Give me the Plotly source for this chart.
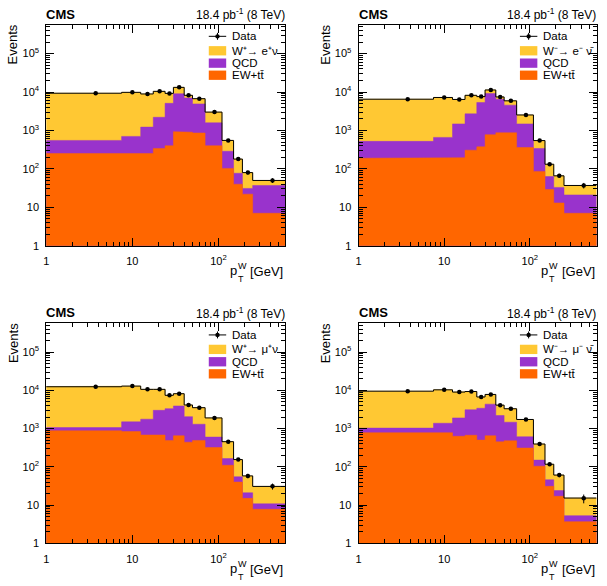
import math
import plotly.graph_objects as go

# ---------------- data ----------------
EDGES = [0, 7.5, 12.5, 17.5, 24, 30, 40, 50, 70, 110, 150, 190, 250, 600]

# W+ -> e+ nu
DATA_EP = [9300, 9800, 8900, 10400, 9200, 13200, 8200, 6700, 3000, 550, 180, 80, 50]
SIG_EP = [8750, 9100, 7680, 8200, 4120, 4200, 1200, 1800, 1420, 262, 103, 49, 13]
QCD_EP = [300, 450, 970, 1860, 4680, 8070, 6100, 4040, 1180, 185, 37, 9, 30]
EW_EP = [250, 250, 250, 340, 400, 930, 900, 860, 400, 103, 40, 22, 7]

# W- -> e- nubar
DATA_EM = [6500, 7200, 6400, 8200, 7600, 11300, 7450, 5900, 2530, 545, 132, 66, 37]
SIG_EM = [5980, 6550, 4920, 5500, 2250, 2200, 950, 1350, 1050, 205, 69, 33, 16]
QCD_EM = [332, 470, 1285, 2393, 4975, 8325, 5630, 3680, 1120, 254, 34, 20, 14]
EW_EM = [188, 190, 195, 307, 375, 775, 870, 870, 360, 86, 29, 13, 7]

# W+ -> mu+ nu
DATA_MP = [12400, 12900, 10600, 10600, 7400, 8150, 4140, 3520, 1900, 455, 155, 58, 31]
SIG_MP = [11340, 11400, 8840, 7600, 4080, 4250, 2090, 2220, 1300, 291, 100, 37, 20]
QCD_MP = [180, 660, 1080, 2320, 2830, 3250, 1610, 810, 280, 54, 15, 6, 3]
EW_MP = [880, 840, 680, 680, 490, 650, 440, 490, 320, 110, 40, 15, 7.8]

# W- -> mu- nubar
DATA_MM = [9500, 10300, 9000, 9300, 6700, 7800, 4100, 3300, 1730, 395, 117, 61, 15]
SIG_MM = [8470, 8920, 7100, 6200, 3300, 3450, 1900, 1830, 1120, 245, 71, 37, 10]
QCD_MM = [250, 600, 1270, 2430, 2900, 3700, 1750, 990, 300, 46, 15, 7, 1.6]
EW_MM = [780, 780, 630, 670, 500, 650, 450, 480, 310, 104, 31, 17, 3.7]

SIG_LABELS = [
    "W\u207a\u2192 e\u207a\u03bd",
    "W\u207b\u2192 e\u207b \u03bd\u0304",
    "W\u207a\u2192 \u03bc\u207a\u03bd",
    "W\u207b\u2192 \u03bc\u207b \u03bd\u0304",
]
BKG_LABELS = ["QCD", "EW+tt\u0304"]
X_TICKVALS = [1, 10, 100]
X_TICKTEXT = ["1", "10", "10<sup>2</sup>"]
Y_TICKVALS = [1, 10, 100, 1e3, 1e4, 1e5]
Y_TICKTEXT = ["1", "10", "10<sup>2</sup>", "10<sup>3</sup>", "10<sup>4</sup>", "10<sup>5</sup>"]
LUMI = "18.4 pb<sup>-1</sup> (8 TeV)"

# ---------------- style ----------------
W, H = 607, 586
FONT = "Liberation Sans, Arial, Helvetica, sans-serif"
C_SIG = "#FFC833"
C_QCD = "#9933CC"
C_EW = "#FF6600"
COLS = [(43.5, 283.8), (357.3, 596.5)]
ROWS = [(25.0, 248.3), (326.7, 549.0)]
X_RANGE = [0, math.log10(600)]
Y_RANGE = [0, 5.75]
FLOOR = 0.1
X_LOW_DRAW = 0.5

def px(x):
    return x / W

def py(y):
    return 1 - y / H

minor_x = [k * 10 ** d for d in range(0, 3) for k in range(2, 10)]
minor_y = [k * 10 ** d for d in range(0, 6) for k in range(2, 10)]

panels = [
    (0, 0, DATA_EP, SIG_EP, QCD_EP, EW_EP, SIG_LABELS[0]),
    (1, 0, DATA_EM, SIG_EM, QCD_EM, EW_EM, SIG_LABELS[1]),
    (0, 1, DATA_MP, SIG_MP, QCD_MP, EW_MP, SIG_LABELS[2]),
    (1, 1, DATA_MM, SIG_MM, QCD_MM, EW_MM, SIG_LABELS[3]),
]

edges_draw = [max(e, X_LOW_DRAW) for e in EDGES]
centers = [(EDGES[i] + EDGES[i + 1]) / 2 for i in range(len(EDGES) - 1)]

def step_polygon(level):
    xs, ys = [], []
    for i, v in enumerate(level):
        xs += [edges_draw[i], edges_draw[i + 1]]
        ys += [v, v]
    xs += [edges_draw[-1], edges_draw[0]]
    ys += [FLOOR, FLOOR]
    return xs, ys

fig = go.Figure()
shapes = []
annotations = []
layout = {}

for k, (c, r, data, sig, qcd, ew, slabel) in enumerate(panels, start=1):
    sfx = "" if k == 1 else str(k)
    xa, ya = "x" + sfx, "y" + sfx
    L, R = COLS[c]
    T, B = ROWS[r]

    lvl_ew = list(ew)
    lvl_qcd = [a + b for a, b in zip(lvl_ew, qcd)]
    lvl_tot = [a + b for a, b in zip(lvl_qcd, sig)]

    for lvl, col in [(lvl_tot, C_SIG), (lvl_qcd, C_QCD), (lvl_ew, C_EW)]:
        xs, ys = step_polygon(lvl)
        fig.add_trace(go.Scatter(x=xs, y=ys, fill="toself", fillcolor=col,
                                 mode="lines", line=dict(color=col, width=0.5),
                                 xaxis=xa, yaxis=ya, hoverinfo="skip"))
    # black outline on top of the stack
    fig.add_trace(go.Scatter(x=edges_draw, y=lvl_tot + [lvl_tot[-1]], mode="lines",
                             line=dict(color="black", width=1, shape="hv"),
                             xaxis=xa, yaxis=ya, hoverinfo="skip"))
    # data
    fig.add_trace(go.Scatter(x=centers, y=data, mode="markers",
                             marker=dict(color="black", size=4.5),
                             error_y=dict(type="data", array=[math.sqrt(v) for v in data],
                                          color="black", thickness=1, width=0),
                             xaxis=xa, yaxis=ya))

    axcommon = dict(showline=True, linecolor="black", linewidth=1, mirror="allticks",
                    ticks="inside", ticklen=8, tickcolor="black", tickwidth=1,
                    showgrid=False, zeroline=False, type="log",
                    tickfont=dict(family=FONT, size=11, color="black"),
                    tickmode="array")
    layout["xaxis" + sfx] = dict(axcommon, domain=[px(L), px(R)], range=X_RANGE,
                                 anchor=ya, tickvals=X_TICKVALS, ticktext=X_TICKTEXT,
                                 ticklabelstandoff=5,
                                 minor=dict(tickmode="array", tickvals=minor_x, ticks="inside",
                                            ticklen=4, tickcolor="black", showgrid=False))
    layout["yaxis" + sfx] = dict(axcommon, domain=[py(B), py(T)], range=Y_RANGE,
                                 anchor=xa, tickvals=Y_TICKVALS, ticktext=Y_TICKTEXT,
                                 ticklabelstandoff=4,
                                 minor=dict(tickmode="array", tickvals=minor_y, ticks="inside",
                                            ticklen=4, tickcolor="black", showgrid=False))

    # header texts
    annotations.append(dict(x=px(L - 2), y=py(T - 10.5), xref="paper", yref="paper",
                            text="<b>CMS</b>", showarrow=False, xanchor="left", yanchor="middle",
                            font=dict(family=FONT, size=13, color="black")))
    annotations.append(dict(x=px(R + 1.5), y=py(T - 10.5), xref="paper", yref="paper",
                            text=LUMI, showarrow=False, xanchor="right", yanchor="middle",
                            font=dict(family=FONT, size=12, color="black")))
    # axis titles (anchors refer to the unrotated box, so centre it)
    annotations.append(dict(x=px(L - 33.5), y=py(T + 20), xref="paper", yref="paper",
                            text="Events", showarrow=False, textangle=-90,
                            xanchor="center", yanchor="middle",
                            font=dict(family=FONT, size=13, color="black")))
    annotations.append(dict(x=px(R), y=py(B + 26), xref="paper", yref="paper",
                            text="[GeV]", showarrow=False, xanchor="right", yanchor="middle",
                            font=dict(family=FONT, size=13, color="black")))
    annotations.append(dict(x=px(R - 46.5), y=py(B + 25), xref="paper", yref="paper",
                            text="p", showarrow=False, xanchor="right", yanchor="middle",
                            font=dict(family=FONT, size=13, color="black")))
    annotations.append(dict(x=px(R - 43.5), y=py(B + 20.5), xref="paper", yref="paper",
                            text="W", showarrow=False, xanchor="center", yanchor="middle",
                            font=dict(family=FONT, size=9, color="black")))
    annotations.append(dict(x=px(R - 44.5), y=py(B + 34), xref="paper", yref="paper",
                            text="T", showarrow=False, xanchor="center", yanchor="middle",
                            font=dict(family=FONT, size=9, color="black")))

    # legend
    bx0, bx1 = R - 77, R - 59.5
    tx = R - 56
    ydata = T + 11.7
    shapes.append(dict(type="line", xref="paper", yref="paper", x0=px(bx0), x1=px(bx1),
                       y0=py(ydata), y1=py(ydata), line=dict(color="black", width=1)))
    xm = (bx0 + bx1) / 2
    shapes.append(dict(type="line", xref="paper", yref="paper", x0=px(xm), x1=px(xm),
                       y0=py(ydata - 3.5), y1=py(ydata + 3.5), line=dict(color="black", width=1)))
    shapes.append(dict(type="circle", xref="paper", yref="paper", x0=px(xm - 2.2), x1=px(xm + 2.2),
                       y0=py(ydata - 2.2), y1=py(ydata + 2.2), fillcolor="black",
                       line=dict(color="black", width=0)))
    entries = [("Data", None, ydata),
               (slabel, C_SIG, T + 26.3),
               (BKG_LABELS[0], C_QCD, T + 38.8),
               (BKG_LABELS[1], C_EW, T + 51.0)]
    for txt, col, yc in entries:
        if col is not None:
            shapes.append(dict(type="rect", xref="paper", yref="paper", x0=px(bx0), x1=px(bx1),
                               y0=py(yc - 4.7), y1=py(yc + 4.7), fillcolor=col,
                               line=dict(color=col, width=0)))
        annotations.append(dict(x=px(tx), y=py(yc), xref="paper", yref="paper", text=txt,
                                showarrow=False, xanchor="left", yanchor="middle",
                                font=dict(family=FONT, size=11.5, color="black")))

fig.update_layout(width=W, height=H, margin=dict(l=0, r=0, t=0, b=0),
                  paper_bgcolor="white", plot_bgcolor="white", showlegend=False,
                  shapes=shapes, annotations=annotations, **layout)
fig.write_html("out.html")
